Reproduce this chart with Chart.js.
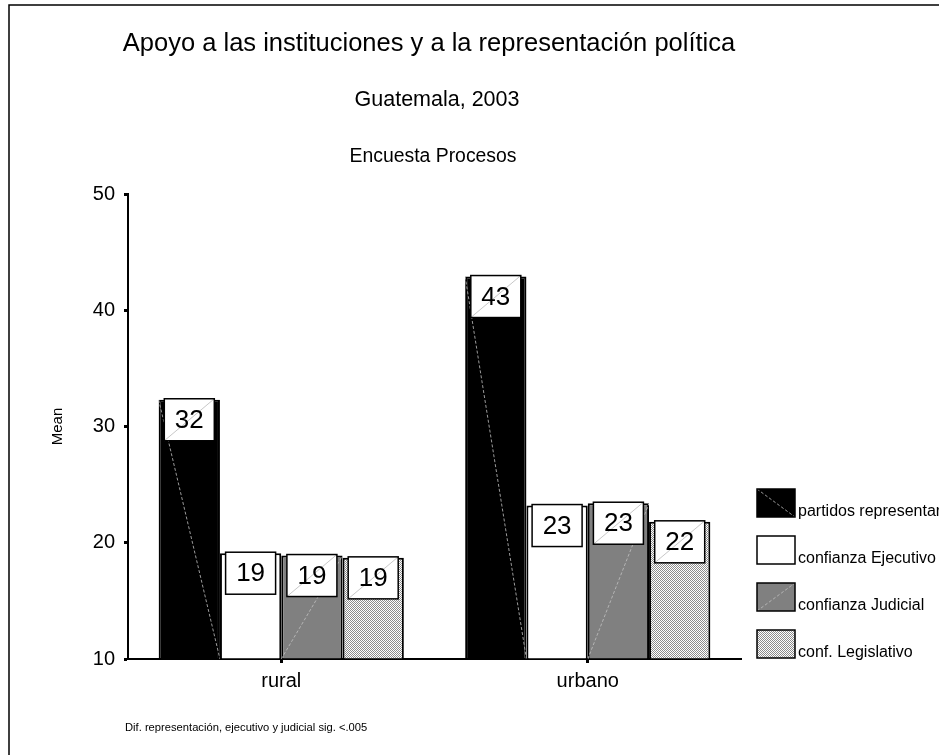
<!DOCTYPE html>
<html>
<head>
<meta charset="utf-8">
<script src="https://cdn.jsdelivr.net/npm/chart.js@4/dist/chart.umd.min.js"></script>
<style>
  html, body { margin: 0; padding: 0; background: #fff; }
</style>
</head>
<body>
<canvas id="meanChart" width="939" height="755"></canvas>
<script>
const categories = ['rural', 'urbano'];
const seriesNames = ['partidos representar', 'confianza Ejecutivo', 'confianza Judicial', 'conf. Legislativo'];
const partidos = [32.3, 42.9];
const ejecutivo = [19.1, 23.2];
const judicial = [18.9, 23.4];
const legislativo = [18.7, 21.8];
const yTicks = [10, 20, 30, 40, 50];

const FONT = '"Liberation Sans", Arial, sans-serif';
const ctx = document.getElementById('meanChart').getContext('2d');

// fine checker fill like the old SPSS dither
function ditherPattern() {
    const c = document.createElement('canvas');
    c.width = 2; c.height = 2;
    const g = c.getContext('2d');
    g.fillStyle = '#ffffff'; g.fillRect(0, 0, 2, 2);
    g.fillStyle = '#8c8c8c'; g.fillRect(0, 0, 1, 1); g.fillRect(1, 1, 1, 1);
    return ctx.createPattern(c, 'repeat');
}

// faint diagonal that runs through a bar or swatch
function streak(c, left, top, right, bottom, dir, color) {
    c.save();
    c.beginPath(); c.rect(left, top, right - left, bottom - top); c.clip();
    c.strokeStyle = color; c.lineWidth = 1; c.setLineDash([3, 2]);
    c.beginPath();
    if (dir === 'down') { c.moveTo(left, top); c.lineTo(right, bottom); }
    else { c.moveTo(left, bottom); c.lineTo(right, top); }
    c.stroke();
    c.restore();
}

const barDecor = {
    id: 'barDecor',
    afterDatasetsDraw(chart) {
        const c = chart.ctx;
        const base = chart.scales.y.getPixelForValue(10);
        // streaks first, value boxes on top
        chart.data.datasets.forEach((ds, i) => {
            if (!ds.streakDir) return;
            chart.getDatasetMeta(i).data.forEach(bar => {
                streak(c, bar.x - bar.width / 2, bar.y, bar.x + bar.width / 2, base, ds.streakDir, ds.streakColor);
            });
        });
        chart.data.datasets.forEach((ds, i) => {
            chart.getDatasetMeta(i).data.forEach((bar, j) => {
                const w = 50, h = 42;
                const l = bar.x - w / 2, t = bar.y - 1;
                c.save();
                c.fillStyle = '#fff';
                c.fillRect(l, t, w, h);
                if (ds.streakDir || i === 3) {
                    c.strokeStyle = '#c8c8c8'; c.lineWidth = 1;
                    c.beginPath(); c.moveTo(l, t + h); c.lineTo(l + w, t); c.stroke();
                }
                c.strokeStyle = '#000'; c.lineWidth = 1.5;
                c.strokeRect(l, t, w, h);
                c.fillStyle = '#000';
                c.font = '26px ' + FONT;
                c.textAlign = 'center'; c.textBaseline = 'middle';
                c.fillText(Math.round(ds.data[j]), bar.x, t + h / 2 + 1);
                c.restore();
            });
        });
    }
};

const decor = {
    id: 'decor',
    afterDraw(chart) {
        const c = chart.ctx;
        c.save();
        // frame edges
        c.strokeStyle = '#000'; c.lineWidth = 1.5;
        c.beginPath(); c.moveTo(9, 760); c.lineTo(9, 5); c.lineTo(945, 5); c.stroke();

        c.fillStyle = '#000';
        c.textAlign = 'center'; c.textBaseline = 'alphabetic';
        c.font = '25.5px ' + FONT;
        c.fillText('Apoyo a las instituciones y a la representación política', 429, 51);
        c.font = '21.5px ' + FONT;
        c.fillText('Guatemala, 2003', 437, 106);
        c.font = '19.4px ' + FONT;
        c.fillText('Encuesta Procesos', 433, 162);
        c.textAlign = 'left';
        c.font = '11.2px ' + FONT;
        c.fillText('Dif. representación, ejecutivo y judicial sig. <.005', 125, 731);

        // legend
        chart.data.datasets.forEach((ds, i) => {
            const x = 757, y = 489 + i * 47, w = 38, h = 28;
            c.fillStyle = ds.backgroundColor;
            c.fillRect(x, y, w, h);
            if (ds.streakDir) streak(c, x, y, x + w, y + h, ds.streakDir, ds.streakColor);
            c.strokeStyle = '#000'; c.lineWidth = 1.5;
            c.strokeRect(x, y, w, h);
            c.fillStyle = '#000';
            c.font = '16px ' + FONT;
            c.fillText(ds.label, 798, y + h - 1);
        });
        c.restore();
    }
};

new Chart(ctx, {
    type: 'bar',
    data: {
        labels: categories,
        datasets: [
            { label: seriesNames[0], data: partidos, backgroundColor: '#000000', streakDir: 'down', streakColor: '#9a9a9a' },
            { label: seriesNames[1], data: ejecutivo, backgroundColor: '#ffffff' },
            { label: seriesNames[2], data: judicial, backgroundColor: '#808080', streakDir: 'up', streakColor: '#b4b4b4' },
            { label: seriesNames[3], data: legislativo, backgroundColor: ditherPattern() }
        ]
    },
    options: {
        responsive: false,
        animation: false,
        devicePixelRatio: 1,
        datasets: {
            bar: { base: 10, borderColor: '#000', borderWidth: 2, categoryPercentage: 0.8, barPercentage: 1.0 }
        },
        layout: { padding: { top: 194, right: 198, bottom: 66, left: 0 } },
        plugins: { legend: { display: false }, tooltip: { enabled: false } },
        scales: {
            x: {
                afterFit: s => { s.height = 30; },
                grid: { display: true, offset: false, drawOnChartArea: false, tickLength: 4, tickWidth: 3, tickColor: '#000' },
                border: { color: '#000', width: 2 },
                ticks: { color: '#000', font: { family: FONT, size: 20 }, padding: 6 }
            },
            y: {
                min: 10, max: 50,
                afterFit: s => { s.width = 128; },
                afterBuildTicks: s => { s.ticks = yTicks.map(v => ({ value: v })); },
                grid: { drawOnChartArea: false, tickLength: 4, tickWidth: 3, tickColor: '#000' },
                border: { color: '#000', width: 2 },
                ticks: { color: '#000', font: { family: FONT, size: 20 }, padding: 9 },
                title: { display: true, text: 'Mean', color: '#000', font: { family: FONT, size: 15 }, padding: { top: 49, bottom: 0 } }
            }
        }
    },
    plugins: [barDecor, decor]
});
</script>
</body>
</html>
